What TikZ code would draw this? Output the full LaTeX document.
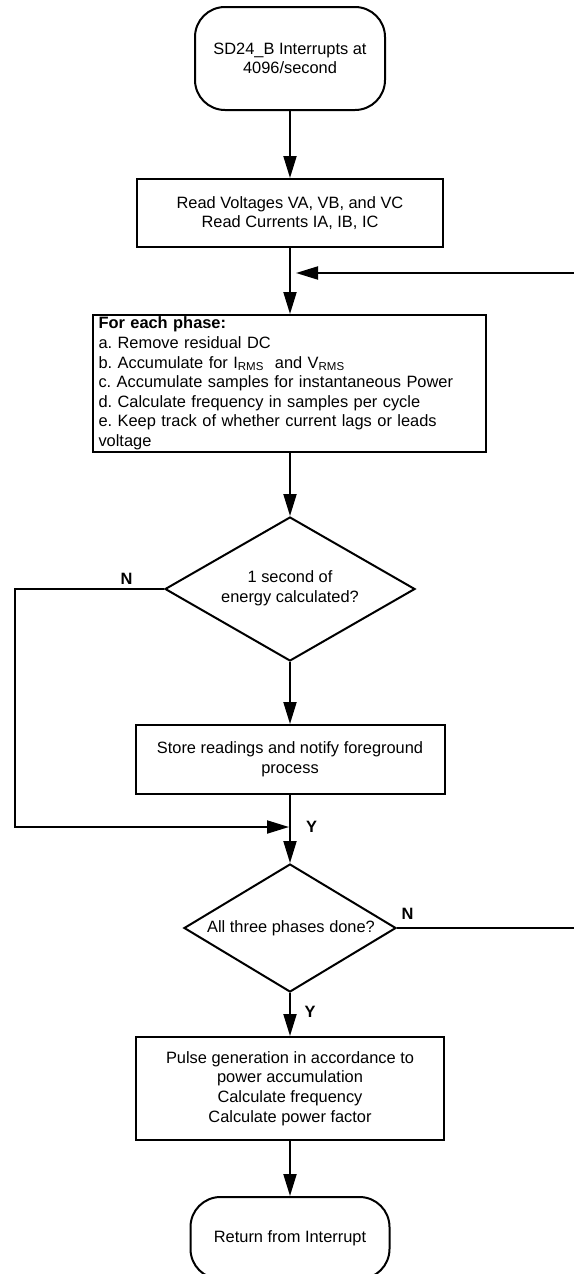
\documentclass[tikz,border=0pt]{standalone}
\usepackage{fontspec}
\setmainfont{Liberation Sans}
\usetikzlibrary{shapes.geometric,arrows.meta}
\begin{document}
\frenchspacing
\begin{tikzpicture}[x=1pt,y=-1pt,
  every node/.style={font=\fontsize{16.4}{19.6}\selectfont, align=center},
  conn/.style={line width=2pt},
  arr/.style={conn,-{Triangle[length=22pt,width=13pt]}},
  procbox/.style={draw, line width=2pt, rectangle, inner sep=0pt},
  termbox/.style={draw, line width=2pt, rectangle, rounded corners=30pt, inner sep=0pt},
  decbox/.style={draw, line width=2pt, diamond, inner sep=0pt},
  lbl/.style={font=\fontsize{16.4}{19.6}\selectfont\bfseries}]
\useasboundingbox (0,0) rectangle (573,1274);
% nodes
\node[termbox, minimum width=190pt, minimum height=103pt] (term1) at (290,58.5) {SD24\_B Interrupts at\\4096/second};
\node[procbox, minimum width=306pt, minimum height=68pt] (box2) at (290,213) {Read Voltages VA, VB, and VC\\Read Currents IA, IB, IC};
\node[procbox, minimum width=393pt, minimum height=137pt, text width=381pt, align=left, inner xsep=6pt] (box3) at (289,383.5)
  {\textbf{For each phase:}\\
   a. Remove residual DC\\
   b. Accumulate for I\textsubscript{RMS}\ \ and V\textsubscript{RMS}\\
   c. Accumulate samples for instantaneous Power\\
   d. Calculate frequency in samples per cycle\\
   e. Keep track of whether current lags or leads\\
   voltage};
\node[decbox, minimum width=250pt, minimum height=144pt] (dia1) at (290,589) {};
\node (dia1t) at (290,588) {1 second of\\energy calculated?};
\node[procbox, minimum width=309pt, minimum height=69pt] (box4) at (290,759.5) {Store readings and notify foreground\\process};
\node[decbox, minimum width=212pt, minimum height=128pt] (dia2) at (290,928) {};
\node (dia2t) at (291,928) {All three phases done?};
\node[procbox, minimum width=308pt, minimum height=103pt] (box5) at (290,1088.5)
  {Pulse generation in accordance to\\power accumulation\\Calculate frequency\\Calculate power factor};
\node[termbox, minimum width=199pt, minimum height=82pt] (term2) at (290,1238) {Return from Interrupt};
% helper coordinates
\coordinate (lc1) at (15,589);
\coordinate (lc2) at (15,827);
\coordinate (j1) at (289,827);
\coordinate (rc1) at (577,928);
\coordinate (rc2) at (577,273);
\coordinate (fb) at (296,273);
% connectors
\draw[arr] (term1.south) -- (box2.north);
\draw[arr] (box2.south) -- (box2.south |- box3.north);
\draw[arr] (box3.south -| dia1.north) -- (dia1.north);
\draw[arr] (dia1.south) -- (box4.north);
\draw[arr] (box4.south) -- (dia2.north);
\draw[arr] (dia2.south) -- (box5.north);
\draw[arr] (box5.south) -- (term2.north);
\draw[arr] (dia1.west) -- (lc1) -- (lc2) -- (j1);
\draw[arr] (dia2.east) -- (rc1) -- (rc2) -- (fb);
% labels
\node[lbl] (n1) at (126.5,579) {N};
\node[lbl] (y1) at (311.5,827) {Y};
\node[lbl] (n2) at (407.5,914) {N};
\node[lbl] (y2) at (310,1012) {Y};
\end{tikzpicture}
\end{document}
